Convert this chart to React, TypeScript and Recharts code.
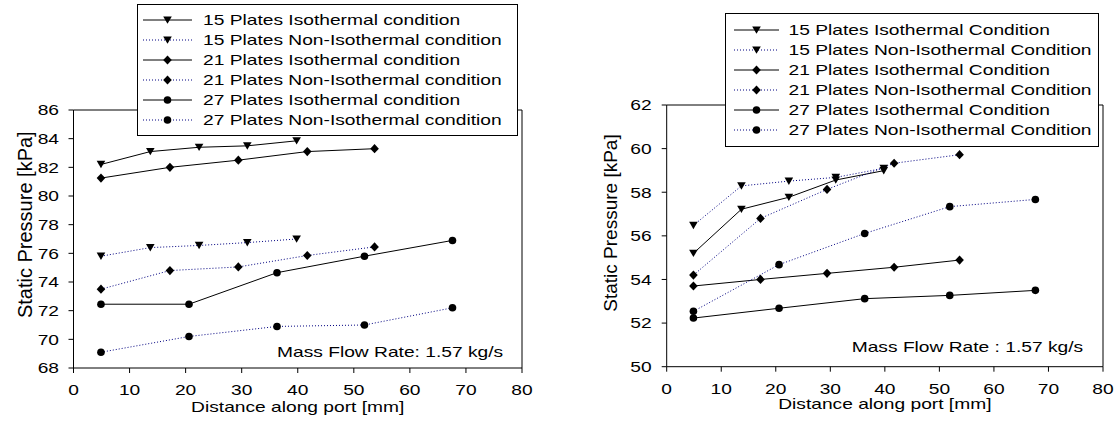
import React from "react";
import { Line, LineChart, ReferenceLine, XAxis, YAxis } from "recharts";

// x positions (mm) of the ports for each plate count
const xs15 = [4.9, 13.7, 22.4, 31.0, 39.8];
const xs21 = [4.9, 17.2, 29.4, 41.7, 53.7];
const xs27 = [4.9, 20.6, 36.3, 51.9, 67.6];

// left panel, static pressure [kPa]
const left15Iso = [82.2, 83.1, 83.4, 83.5, 83.85];
const left15Non = [75.8, 76.4, 76.55, 76.75, 77.0];
const left21Iso = [81.25, 82.0, 82.5, 83.1, 83.3];
const left21Non = [73.5, 74.8, 75.05, 75.85, 76.45];
const left27Iso = [72.45, 72.45, 74.65, 75.8, 76.9];
const left27Non = [69.1, 70.2, 70.9, 71.0, 72.2];

// right panel, static pressure [kPa]
const right15Iso = [55.2, 57.22, 57.77, 58.56, 58.99];
const right15Non = [56.48, 58.29, 58.51, 58.68, 59.1];
const right21Iso = [53.7, 54.0, 54.28, 54.56, 54.89];
const right21Non = [54.2, 56.8, 58.13, 59.33, 59.72];
const right27Iso = [52.23, 52.68, 53.12, 53.27, 53.5];
const right27Non = [52.54, 54.68, 56.11, 57.34, 57.67];

const leftLabels = [
  "15 Plates Isothermal condition",
  "15 Plates Non-Isothermal condition",
  "21 Plates Isothermal condition",
  "21 Plates Non-Isothermal condition",
  "27 Plates Isothermal condition",
  "27 Plates Non-Isothermal condition",
];
const rightLabels = [
  "15 Plates Isothermal Condition",
  "15 Plates Non-Isothermal Condition",
  "21 Plates Isothermal Condition",
  "21 Plates Non-Isothermal Condition",
  "27 Plates Isothermal Condition",
  "27 Plates Non-Isothermal Condition",
];

const shapes = ["triangle", "triangle", "diamond", "diamond", "circle", "circle"];
const dotted = [false, true, false, true, false, true];
const seriesX = [xs15, xs15, xs21, xs21, xs27, xs27];

const xTicks = [0, 10, 20, 30, 40, 50, 60, 70, 80];
const leftYTicks = [68, 70, 72, 74, 76, 78, 80, 82, 84, 86];
const rightYTicks = [50, 52, 54, 56, 58, 60, 62];

const FONT = "'Liberation Sans', Arial, sans-serif";
const SX = 1.28;

function marker(shape: string, cx: number, cy: number, key: string) {
  if (shape === "triangle")
    return <polygon key={key} points={`${cx - 4.3},${cy - 3.6} ${cx + 4.3},${cy - 3.6} ${cx},${cy + 3.8}`} fill="#000" />;
  if (shape === "diamond")
    return <polygon key={key} points={`${cx},${cy - 4.6} ${cx + 4.3},${cy} ${cx},${cy + 4.6} ${cx - 4.3},${cy}`} fill="#000" />;
  return <circle key={key} cx={cx} cy={cy} r={3.8} fill="#000" />;
}

function stretched(x: number, y: number, text: string, anchor: string, size = 15, key?: string) {
  return (
    <text key={key} transform={`translate(${x},${y}) scale(${SX},1)`} textAnchor={anchor} dy="0.36em" fontSize={size} fontFamily={FONT} fill="#000">
      {text}
    </text>
  );
}

type Panel = {
  left: number;
  values: number[][];
  labels: string[];
  yDomain: [number, number];
  yTicks: number[];
  margin: { top: number; right: number; bottom: number; left: number };
  yAxisWidth: number;
  xAxisHeight: number;
  tickMarginX: number;
  tickMarginY: number;
  yTitle: { dx: number; dy: number; size: number };
  xTitleDy: number;
  legend: { x: number; y: number; w: number; h: number; row0: number; lineX0: number; lineX1: number; textX: number };
  note: { x: number; y: number; text: string };
};

const panels: Panel[] = [
  {
    left: 0,
    values: [left15Iso, left15Non, left21Iso, left21Non, left27Iso, left27Non],
    labels: leftLabels,
    yDomain: [68, 86],
    yTicks: leftYTicks,
    margin: { top: 110, right: 38, bottom: 0, left: 0 },
    yAxisWidth: 73.5,
    xAxisHeight: 53,
    tickMarginX: 11.5,
    tickMarginY: 9.5,
    yTitle: { dx: 25, dy: 224.7, size: 20 },
    xTitleDy: 39,
    legend: { x: 137, y: 4, w: 380, h: 131, row0: 20, lineX0: 143, lineX1: 192, textX: 203 },
    note: { x: 277, y: 352, text: "Mass Flow Rate: 1.57 kg/s" },
  },
  {
    left: 560,
    values: [right15Iso, right15Non, right21Iso, right21Non, right27Iso, right27Non],
    labels: rightLabels,
    yDomain: [50, 62],
    yTicks: rightYTicks,
    margin: { top: 105, right: 17, bottom: 0, left: 0 },
    yAxisWidth: 106.7,
    xAxisHeight: 54.3,
    tickMarginX: 11.2,
    tickMarginY: 10,
    yTitle: { dx: 50, dy: 223, size: 19 },
    xTitleDy: 37.3,
    legend: { x: 165, y: 13, w: 373, h: 133, row0: 30, lineX0: 174, lineX1: 219, textX: 228.6 },
    note: { x: 291.7, y: 346.7, text: "Mass Flow Rate : 1.57 kg/s" },
  },
];

function ChartPanel({ p }: { p: Panel }) {
  const W = 560;
  const H = 421;
  return (
    <div style={{ position: "absolute", left: p.left, top: 0, width: W, height: H }}>
      <LineChart width={W} height={H} margin={p.margin}>
        <XAxis
          type="number"
          dataKey="x"
          domain={[0, 80]}
          ticks={xTicks}
          interval={0}
          height={p.xAxisHeight}
          stroke="#000"
          tickSize={5}
          tickMargin={p.tickMarginX}
          tick={(t: any) => stretched(t.x, t.y + 5.4, String(t.payload.value), "middle")}
          label={(l: any) => {
            const vb = l.viewBox || { x: 0, y: 0, width: 0 };
            return stretched(vb.x + vb.width / 2, vb.y + p.xTitleDy, "Distance along port [mm]", "middle");
          }}
        />
        <YAxis
          type="number"
          domain={p.yDomain}
          ticks={p.yTicks}
          interval={0}
          width={p.yAxisWidth}
          stroke="#000"
          tickSize={5}
          tickMargin={p.tickMarginY}
          allowDataOverflow
          tick={(t: any) => stretched(t.x, t.y, String(t.payload.value), "end")}
          label={() => (
            <text
              transform={`translate(${p.yTitle.dx},${p.yTitle.dy}) rotate(-90)`}
              textAnchor="middle"
              dy="0.36em"
              fontSize={p.yTitle.size}
              fontFamily={FONT}
              fill="#000"
            >
              Static Pressure [kPa]
            </text>
          )}
        />
        <ReferenceLine y={p.yDomain[1]} stroke="#000" />
        <ReferenceLine x={80} stroke="#000" />
        {p.values.map((ys, i) => (
          <Line
            key={p.labels[i]}
            data={seriesX[i].map((x, j) => ({ x, y: ys[j] }))}
            dataKey="y"
            stroke={dotted[i] ? "#000080" : "#000"}
            strokeWidth={1}
            strokeDasharray={dotted[i] ? "1 2" : undefined}
            isAnimationActive={false}
            activeDot={false}
            dot={(d: any) => marker(shapes[i], d.cx, d.cy, `${i}-${d.index}`)}
          />
        ))}
      </LineChart>
      <svg width={W} height={H} style={{ position: "absolute", left: 0, top: 0, pointerEvents: "none" }}>
        <rect x={p.legend.x + 0.5} y={p.legend.y + 0.5} width={p.legend.w} height={p.legend.h} fill="#fff" stroke="#000" />
        {p.labels.map((lab, i) => {
          const cy = p.legend.row0 + i * 20;
          const mx = (p.legend.lineX0 + p.legend.lineX1) / 2;
          return (
            <g key={lab}>
              <line
                x1={p.legend.lineX0}
                x2={p.legend.lineX1}
                y1={cy}
                y2={cy}
                stroke={dotted[i] ? "#000080" : "#000"}
                strokeDasharray={dotted[i] ? "1 2" : undefined}
              />
              {marker(shapes[i], mx, cy, `m${i}`)}
              {stretched(p.legend.textX, cy, lab, "start")}
            </g>
          );
        })}
        {stretched(p.note.x, p.note.y, p.note.text, "start")}
      </svg>
    </div>
  );
}

export default function App() {
  return (
    <div style={{ position: "absolute", left: 0, top: 0, width: 1120, height: 421, background: "#fff" }}>
      {panels.map((p) => (
        <ChartPanel key={p.left} p={p} />
      ))}
    </div>
  );
}
